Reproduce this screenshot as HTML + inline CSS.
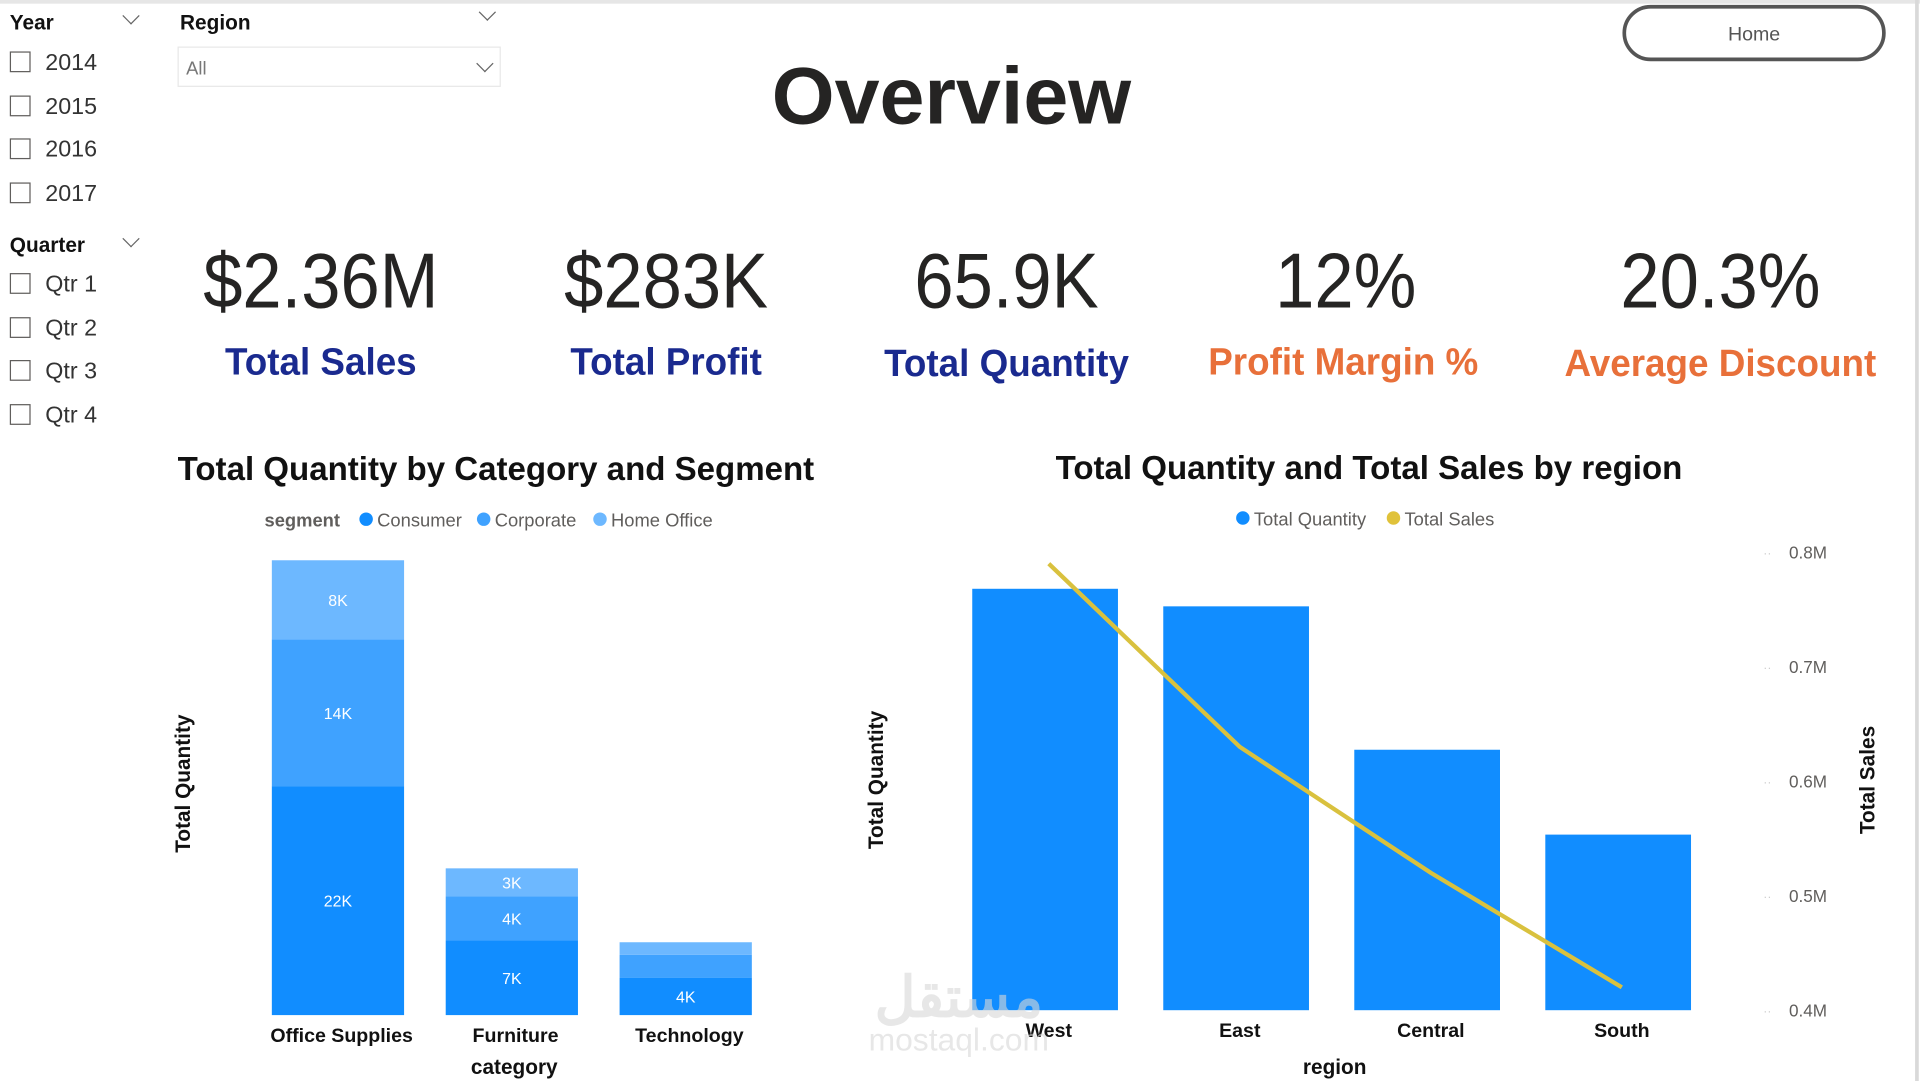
<!DOCTYPE html>
<html><head><meta charset="utf-8"><style>
html,body{margin:0;padding:0;width:1920px;height:1080px;overflow:hidden;background:#fff;}
#root{position:absolute;left:0;top:0;width:1568px;height:883px;transform:scale(1.22449);transform-origin:0 0;font-family:"Liberation Sans",sans-serif;color:#252423;}
.a{position:absolute;white-space:nowrap;}
.cb{position:absolute;width:17px;height:17px;border:1.5px solid #605e5c;box-sizing:border-box;left:8px;}
.cbt{position:absolute;left:37px;font-size:19px;color:#333;}
.hd{font-weight:bold;font-size:17px;color:#111;}
.chev{position:absolute;width:9px;height:9px;border-right:1.3px solid #666;border-bottom:1.3px solid #666;transform:rotate(45deg);}
.kv{position:absolute;white-space:nowrap;font-size:64px;color:#252423;transform:translateX(-50%) scaleX(0.9);}
.kl{position:absolute;white-space:nowrap;font-size:31px;font-weight:bold;transform:translateX(-50%) scaleX(0.97);}
</style></head><body>
<div id="root">
<div class="a" style="left:0;top:0;width:1568px;height:3px;background:#e6e6e6"></div>
<div class="a" style="left:1564px;top:0;width:3px;height:883px;background:#d9d9d9"></div>

<div class="a hd" style="left:8px;top:9px">Year</div>
<div class="chev" style="left:102px;top:8px"></div>
<div class="cb" style="top:42px"></div><div class="a cbt" style="top:41px">2014</div>
<div class="cb" style="top:78px"></div><div class="a cbt" style="top:77px">2015</div>
<div class="cb" style="top:113px"></div><div class="a cbt" style="top:112px">2016</div>
<div class="cb" style="top:149px"></div><div class="a cbt" style="top:148px">2017</div>

<div class="a hd" style="left:8px;top:191px">Quarter</div>
<div class="chev" style="left:102px;top:190px"></div>
<div class="cb" style="top:223px"></div><div class="a cbt" style="top:222px">Qtr 1</div>
<div class="cb" style="top:259px"></div><div class="a cbt" style="top:258px">Qtr 2</div>
<div class="cb" style="top:294px"></div><div class="a cbt" style="top:293px">Qtr 3</div>
<div class="cb" style="top:330px"></div><div class="a cbt" style="top:329px">Qtr 4</div>

<div class="a hd" style="left:147px;top:9px">Region</div>
<div class="chev" style="left:393px;top:5px"></div>
<div class="a" style="left:145px;top:38px;width:264px;height:33px;border:1px solid #e8e8e8;box-sizing:border-box">
<span class="a" style="left:6px;top:9px;font-size:15px;color:#777">All</span>
<div class="chev" style="left:245px;top:8px"></div></div>

<div class="a" style="left:777px;top:40px;transform:translateX(-50%);font-size:66px;font-weight:bold;color:#252423">Overview</div>
<div class="a" style="left:1325px;top:4px;width:215px;height:46px;border:3px solid #555;border-radius:24px;box-sizing:border-box;text-align:center;line-height:43px;font-size:16px;color:#555">Home</div>

<div class="kv" style="left:262px;top:192px">$2.36M</div>
<div class="kv" style="left:544px;top:192px">$283K</div>
<div class="kv" style="left:822px;top:192px">65.9K</div>
<div class="kv" style="left:1099px;top:192px">12%</div>
<div class="kv" style="left:1405px;top:192px">20.3%</div>
<div class="kl" style="left:262px;top:278px;color:#1a2a8f">Total Sales</div>
<div class="kl" style="left:544px;top:278px;color:#1a2a8f">Total Profit</div>
<div class="kl" style="left:822px;top:279px;color:#1a2a8f">Total Quantity</div>
<div class="kl" style="left:1097px;top:278px;color:#e8703a">Profit Margin %</div>
<div class="kl" style="left:1405px;top:279px;color:#e8703a">Average Discount</div>

<svg class="a" id="chart" style="left:0;top:0" width="1568" height="883" font-family="Liberation Sans, sans-serif"></svg>
</div>
<script>
// Left chart data
const categories = ["Office Supplies", "Furniture", "Technology"];
const consumer = [22.0, 7.2, 3.6];
const corporate = [14.1, 4.2, 2.2];
const homeOffice = [7.6, 2.7, 1.2];
const consumerLabels = ["22K", "7K", "4K"];
const corporateLabels = ["14K", "4K", ""];
const homeLabels = ["8K", "3K", ""];
// Right chart data
const regions = ["West", "East", "Central", "South"];
const regionQuantity = [20.0, 19.4, 14.5, 11.6];
const regionSales = [0.79, 0.63, 0.52, 0.42];
const salesTicks = [0.8, 0.7, 0.6, 0.5, 0.4];
const salesTickLabels = ["0.8M", "0.7M", "0.6M", "0.5M", "0.4M"];

const NS = "http://www.w3.org/2000/svg";
const svg = document.getElementById("chart");
function mk(tag, attrs, name, text) {
  const e = document.createElementNS(NS, tag);
  for (const k in attrs) e.setAttribute(k, attrs[k]);
  
  
  if (text !== undefined) e.textContent = text;
  svg.appendChild(e);
  return e;
}
const lBase = 829, lPx = 8.5;
const yL = v => lBase - v * lPx;
const xL = i => 222 + i * 142;
const bwL = 108;
mk("text", {x: 405, y: 392, "text-anchor": "middle", "font-size": 27, "font-weight": "bold", fill: "#111"}, "left-chart-title", "Total Quantity by Category and Segment");
mk("text", {x: 216, y: 430, "font-size": 15, "font-weight": "bold", fill: "#605e5c"}, "legend-title", "segment");
const segCols = ["#118DFF", "#3FA2FF", "#6DB8FF"];
const segNames = ["Consumer", "Corporate", "Home Office"];
const legX = [299, 395, 490];
segNames.forEach((n, i) => {
  mk("circle", {cx: legX[i], cy: 424, r: 5.5, fill: segCols[i]}, "legend-dot-" + i);
  mk("text", {x: legX[i] + 9, y: 430, "font-size": 15, fill: "#605e5c"}, "legend-entry-" + i, n);
});
const series = [consumer, corporate, homeOffice];
const slabels = [consumerLabels, corporateLabels, homeLabels];
categories.forEach((c, i) => {
  let acc = 0;
  series.forEach((s, k) => {
    const v = s[i];
    const y0 = yL(acc), y1 = yL(acc + v);
    mk("rect", {x: xL(i), y: y1, width: bwL, height: y0 - y1, fill: segCols[k]}, "bar-" + i + "-" + k);
    if (slabels[k][i]) mk("text", {x: xL(i) + bwL / 2, y: (y0 + y1) / 2 + 5, "text-anchor": "middle", "font-size": 13, fill: "#fff"}, "bar-label-" + i + "-" + k, slabels[k][i]);
    acc += v;
  });
  mk("text", {x: xL(i) + bwL / 2 + 3, y: 851, "text-anchor": "middle", "font-size": 16, "font-weight": "bold", fill: "#111"}, "category-label-" + i, c);
});
mk("text", {x: 420, y: 877, "text-anchor": "middle", "font-size": 17, "font-weight": "bold", fill: "#111"}, "x-axis-title-left", "category");
mk("text", {x: 0, y: 0, transform: "translate(155,640) rotate(-90)", "text-anchor": "middle", "font-size": 17, "font-weight": "bold", fill: "#111"}, "y-axis-title-left", "Total Quantity");

const rBase = 825, q0 = 5.6, qPx = 23.9;
const yQ = v => rBase - (v - q0) * qPx;
const yS = v => rBase - (v - 0.4) * 935;
const xR = i => 794 + i * 156;
const bwR = 119;
mk("text", {x: 1118, y: 391, "text-anchor": "middle", "font-size": 27, "font-weight": "bold", fill: "#111"}, "right-chart-title", "Total Quantity and Total Sales by region");
mk("circle", {cx: 1015, cy: 423, r: 5.5, fill: "#118DFF"}, "legend-dot-quantity");
mk("text", {x: 1024, y: 429, "font-size": 15, fill: "#605e5c"}, "legend-entry-quantity", "Total Quantity");
mk("circle", {cx: 1138, cy: 423, r: 5.5, fill: "#E0C23A"}, "legend-dot-sales");
mk("text", {x: 1147, y: 429, "font-size": 15, fill: "#605e5c"}, "legend-entry-sales", "Total Sales");
salesTicks.forEach((t, i) => {
  mk("text", {x: 1440, y: yS(t) + 4, "font-size": 10, fill: "#ccc"}, "tick-dots-" + i, "··");
  mk("text", {x: 1461, y: yS(t) + 5, "font-size": 14, fill: "#605e5c"}, "y2-tick-" + i, salesTickLabels[i]);
});
regions.forEach((r, i) => {
  mk("rect", {x: xR(i), y: yQ(regionQuantity[i]), width: bwR, height: rBase - yQ(regionQuantity[i]), fill: "#118DFF"}, "bar-" + r.toLowerCase());
  mk("text", {x: xR(i) + bwR / 2 + 3, y: 847, "text-anchor": "middle", "font-size": 16, "font-weight": "bold", fill: "#111"}, "region-label-" + i, r);
});
const pts = regions.map((r, i) => (xR(i) + bwR / 2 + 3) + "," + yS(regionSales[i])).join(" ");
mk("polyline", {points: pts, fill: "none", stroke: "#D9C13E", "stroke-width": 3.5}, "sales-line");
mk("text", {x: 1090, y: 877, "text-anchor": "middle", "font-size": 17, "font-weight": "bold", fill: "#111"}, "x-axis-title-right", "region");
mk("text", {x: 0, y: 0, transform: "translate(721,637) rotate(-90)", "text-anchor": "middle", "font-size": 17, "font-weight": "bold", fill: "#111"}, "y-axis-title-right", "Total Quantity");
mk("text", {x: 0, y: 0, transform: "translate(1531,637) rotate(-90)", "text-anchor": "middle", "font-size": 17, "font-weight": "bold", fill: "#111"}, "y2-axis-title", "Total Sales");
mk("text", {x: 783, y: 830, "text-anchor": "middle", "font-size": 46, "font-weight": "bold", fill: "#d8d8d8", opacity: 0.6}, "watermark-arabic", "مستقل");
mk("text", {x: 783, y: 858, "text-anchor": "middle", "font-size": 26, fill: "#d8d8d8", opacity: 0.6}, "watermark-latin", "mostaql.com");
</script>
</body></html>
